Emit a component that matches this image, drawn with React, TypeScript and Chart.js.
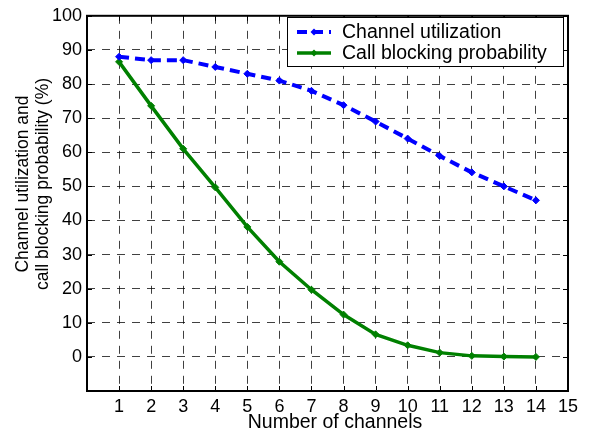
import React, { useEffect, useRef } from 'react';
import { Chart, registerables } from 'chart.js';

Chart.register(...registerables);

const channels = [1, 2, 3, 4, 5, 6, 7, 8, 9, 10, 11, 12, 13, 14];
const utilization = [88, 87, 87, 85, 83, 81, 78, 73.8, 69, 64, 58.9, 54.1, 50, 45.9];
const blocking = [86.5, 73.6, 61, 49.7, 38.1, 27.9, 19.7, 12.4, 6.6, 3.4, 1.25, 0.3, 0.1, 0];
const seriesLabels = ['Channel utilization', 'Call blocking probability'];
const xLabel = 'Number of channels';
const yLabel = ['Channel utilization and', 'call blocking probability (%)'];
const xMin = 0, xMax = 15, xStep = 1;
const yMin = -10, yMax = 100, yStep = 10;

const FONT = "'Liberation Sans', Arial, sans-serif";

const boxPlugin = {
  id: 'boxPlugin',
  afterDraw(chart: any) {
    const { ctx, chartArea: a, scales } = chart;
    const xs = scales.x, ys = scales.y;
    ctx.save();
    ctx.strokeStyle = '#000';
    ctx.lineWidth = 1;
    ctx.setLineDash([]);
    const tl = 5;
    ctx.beginPath();
    for (let v = xMin; v <= xMax; v += xStep) {
      const px = Math.round(xs.getPixelForValue(v)) + 0.5;
      ctx.moveTo(px, a.bottom); ctx.lineTo(px, a.bottom - tl);
      ctx.moveTo(px, a.top); ctx.lineTo(px, a.top + tl);
    }
    for (let v = yMin; v <= yMax; v += yStep) {
      const py = Math.round(ys.getPixelForValue(v)) + 0.5;
      ctx.moveTo(a.left, py); ctx.lineTo(a.left + tl, py);
      ctx.moveTo(a.right, py); ctx.lineTo(a.right - tl, py);
    }
    ctx.stroke();
    ctx.lineWidth = 2;
    ctx.strokeRect(a.left, a.top, a.right - a.left, a.bottom - a.top);

    // axis titles
    ctx.fillStyle = '#000';
    ctx.textAlign = 'center';
    ctx.textBaseline = 'alphabetic';
    ctx.font = `19.5px ${FONT}`;
    ctx.fillText(xLabel, 335, 428);
    ctx.save();
    ctx.translate(0, 184);
    ctx.rotate(-Math.PI / 2);
    ctx.font = `17.5px ${FONT}`;
    ctx.fillText(yLabel[0], 0, 28);
    ctx.fillText(yLabel[1], 0, 48);
    ctx.restore();

    // legend
    const lx = 287, ly = 17, lw = 276, lh = 49;
    ctx.fillStyle = '#fff';
    ctx.fillRect(lx, ly, lw, lh);
    ctx.lineWidth = 1;
    ctx.strokeStyle = '#000';
    ctx.strokeRect(lx + 0.5, ly + 0.5, lw, lh);
    const rows = [32, 53];
    chart.data.datasets.forEach((ds: any, i: number) => {
      const y = rows[i];
      ctx.save();
      ctx.strokeStyle = ds.borderColor;
      ctx.lineWidth = ds.borderWidth;
      ctx.setLineDash(ds.borderDash || []);
      ctx.beginPath();
      ctx.moveTo(297, y); ctx.lineTo(331, y);
      ctx.stroke();
      ctx.setLineDash([]);
      ctx.fillStyle = ds.borderColor;
      ctx.beginPath();
      const r = 3.5;
      ctx.moveTo(314, y - r); ctx.lineTo(314 + r, y); ctx.lineTo(314, y + r); ctx.lineTo(314 - r, y);
      ctx.closePath();
      ctx.fill();
      ctx.restore();
      ctx.fillStyle = '#000';
      ctx.font = `19.5px ${FONT}`;
      ctx.textBaseline = 'middle';
      ctx.textAlign = 'left';
      ctx.fillText(ds.label, 342, y + 1);
    });
    ctx.restore();
  },
};

export default function App() {
  const ref = useRef<HTMLCanvasElement>(null);
  useEffect(() => {
    document.body.style.margin = '0';
    const chart = new Chart(ref.current!, {
      type: 'line',
      data: {
        datasets: [
          {
            label: seriesLabels[0],
            data: channels.map((c, i) => ({ x: c, y: utilization[i] })),
            borderColor: '#0000ff',
            backgroundColor: '#0000ff',
            borderWidth: 4,
            borderDash: [10, 6],
            pointStyle: 'rectRot',
            pointRadius: 3.5,
            pointBorderWidth: 1,
            tension: 0,
          },
          {
            label: seriesLabels[1],
            data: channels.map((c, i) => ({ x: c, y: blocking[i] })),
            borderColor: '#008000',
            backgroundColor: '#008000',
            borderWidth: 3.5,
            pointStyle: 'rectRot',
            pointRadius: 3.5,
            pointBorderWidth: 1,
            tension: 0,
          },
        ],
      },
      options: {
        responsive: false,
        animation: false,
        devicePixelRatio: 1,
        layout: { padding: { left: 8, right: 22, top: 12, bottom: 0 } },
        plugins: { legend: { display: false }, tooltip: { enabled: false } },
        scales: {
          x: {
            type: 'linear',
            min: xMin,
            max: xMax,
            ticks: {
              stepSize: xStep,
              color: '#000',
              font: { family: FONT, size: 18 },
              padding: 5,
              maxRotation: 0,
              autoSkip: false,
              callback: (v: any) => (v === 0 ? '' : String(v)),
            },
            grid: { color: 'rgba(0,0,0,0.75)', lineWidth: 1, drawTicks: false },
            border: { display: false, dash: [8, 7] },
            afterFit: (s: any) => { s.height = 46; },
          },
          y: {
            type: 'linear',
            min: yMin,
            max: yMax,
            ticks: {
              stepSize: yStep,
              color: '#000',
              font: { family: FONT, size: 18 },
              padding: 5,
              autoSkip: false,
              callback: (v: any) => (v === -10 ? '' : String(v)),
            },
            grid: { color: 'rgba(0,0,0,0.75)', lineWidth: 1, drawTicks: false },
            border: { display: false, dash: [8, 7] },
            afterFit: (s: any) => { s.width = 79; },
          },
        },
      },
      plugins: [boxPlugin],
    });
    return () => chart.destroy();
  }, []);
  return (
    <div style={{ position: 'absolute', left: 0, top: 0, width: 590, height: 437, background: '#fff' }}>
      <canvas ref={ref} width={590} height={437} />
    </div>
  );
}
